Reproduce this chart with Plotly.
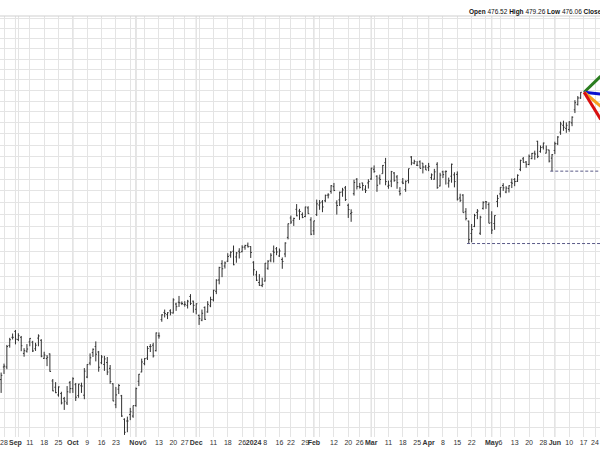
import numpy as np
import pandas as pd
import plotly.graph_objects as go

# ---------------- data (daily OHLC) ----------------
dates = ["2023-08-25","2023-08-28","2023-08-29","2023-08-30","2023-08-31","2023-09-01",
"2023-09-05","2023-09-06","2023-09-07","2023-09-08","2023-09-11","2023-09-12","2023-09-13","2023-09-14","2023-09-15",
"2023-09-18","2023-09-19","2023-09-20","2023-09-21","2023-09-22","2023-09-25","2023-09-26","2023-09-27","2023-09-28","2023-09-29",
"2023-10-02","2023-10-03","2023-10-04","2023-10-05","2023-10-06","2023-10-09","2023-10-10","2023-10-11","2023-10-12","2023-10-13",
"2023-10-16","2023-10-17","2023-10-18","2023-10-19","2023-10-20","2023-10-23","2023-10-24","2023-10-25","2023-10-26","2023-10-27",
"2023-10-30","2023-10-31","2023-11-01","2023-11-02","2023-11-03","2023-11-06","2023-11-07","2023-11-08","2023-11-09","2023-11-10",
"2023-11-13","2023-11-14","2023-11-15","2023-11-16","2023-11-17","2023-11-20","2023-11-21","2023-11-22","2023-11-24",
"2023-11-27","2023-11-28","2023-11-29","2023-11-30","2023-12-01","2023-12-04","2023-12-05","2023-12-06","2023-12-07","2023-12-08",
"2023-12-11","2023-12-12","2023-12-13","2023-12-14","2023-12-15","2023-12-18","2023-12-19","2023-12-20","2023-12-21","2023-12-22",
"2023-12-26","2023-12-27","2023-12-28","2023-12-29","2024-01-02","2024-01-03","2024-01-04","2024-01-05",
"2024-01-08","2024-01-09","2024-01-10","2024-01-11","2024-01-12","2024-01-16","2024-01-17","2024-01-18","2024-01-19",
"2024-01-22","2024-01-23","2024-01-24","2024-01-25","2024-01-26","2024-01-29","2024-01-30","2024-01-31","2024-02-01","2024-02-02",
"2024-02-05","2024-02-06","2024-02-07","2024-02-08","2024-02-09","2024-02-12","2024-02-13","2024-02-14","2024-02-15","2024-02-16",
"2024-02-20","2024-02-21","2024-02-22","2024-02-23","2024-02-26","2024-02-27","2024-02-28","2024-02-29","2024-03-01",
"2024-03-04","2024-03-05","2024-03-06","2024-03-07","2024-03-08","2024-03-11","2024-03-12","2024-03-13","2024-03-14","2024-03-15",
"2024-03-18","2024-03-19","2024-03-20","2024-03-21","2024-03-22","2024-03-25","2024-03-26","2024-03-27","2024-03-28",
"2024-04-01","2024-04-02","2024-04-03","2024-04-04","2024-04-05","2024-04-08","2024-04-09","2024-04-10","2024-04-11","2024-04-12",
"2024-04-15","2024-04-16","2024-04-17","2024-04-18","2024-04-19","2024-04-22","2024-04-23","2024-04-24","2024-04-25","2024-04-26",
"2024-04-29","2024-04-30","2024-05-01","2024-05-02","2024-05-03","2024-05-06","2024-05-07","2024-05-08","2024-05-09","2024-05-10",
"2024-05-13","2024-05-14","2024-05-15","2024-05-16","2024-05-17","2024-05-20","2024-05-21","2024-05-22","2024-05-23","2024-05-24",
"2024-05-28","2024-05-29","2024-05-30","2024-05-31","2024-06-03","2024-06-04","2024-06-05","2024-06-06","2024-06-07",
"2024-06-10","2024-06-11","2024-06-12","2024-06-13","2024-06-14"]

opens = [361.5,366.0,366.0,373.8,376.8,379.0,
376.0,376.8,370.9,371.7,375.1,375.0,372.6,376.5,375.7,
369.1,369.0,370.7,361.0,358.8,356.1,356.6,354.8,353.3,360.4,
358.3,359.7,355.9,359.3,356.0,362.4,367.4,371.2,373.4,371.4,
367.5,366.9,367.6,365.5,360.0,352.7,358.1,355.8,347.7,347.1,
349.3,348.8,352.4,360.9,364.2,367.2,369.2,373.4,373.9,371.9,
377.4,383.4,386.1,385.3,386.7,385.9,389.3,390.0,389.6,
389.1,388.8,392.2,390.4,387.3,385.0,383.2,388.0,386.3,388.6,
390.9,394.2,398.6,405.0,404.1,406.0,408.4,410.0,407.7,410.0,
409.8,411.7,412.4,411.9,405.6,400.6,397.6,396.5,
398.2,403.2,406.4,410.0,411.0,408.1,406.7,408.9,415.6,
423.6,422.6,427.2,426.5,425.0,424.2,427.8,422.8,418.3,425.0,
429.0,430.3,430.8,433.2,434.8,436.8,429.9,431.2,434.5,436.3,
428.9,425.4,433.8,440.0,436.9,438.4,435.7,438.4,440.1,
444.3,441.3,440.5,442.4,447.2,437.0,439.2,442.7,441.0,434.8,
438.8,435.6,439.4,449.7,447.0,446.1,447.6,447.0,445.3,
445.0,440.7,440.0,446.5,437.1,443.2,443.2,438.3,441.3,441.9,
442.1,432.0,433.2,426.2,422.3,417.2,420.1,425.9,417.3,427.6,
430.4,429.2,421.6,421.3,430.5,433.7,437.3,434.5,436.0,438.6,
439.9,439.1,444.3,448.9,447.5,446.4,449.0,451.4,456.7,452.2,
454.1,451.4,452.8,449.2,452.6,455.6,460.8,463.9,462.5,
462.0,465.0,471.0,473.5,476.52]

highs = [364.0,367.2,374.0,376.6,378.2,379.5,
378.3,377.3,372.8,374.3,376.5,375.5,374.8,377.9,376.1,
371.5,370.3,370.9,361.7,360.6,359.1,357.2,355.4,359.2,361.0,
362.3,360.3,360.0,360.4,365.6,367.0,370.9,372.7,375.3,371.8,
370.3,370.0,369.6,366.7,360.2,358.9,359.9,356.1,348.0,348.6,
351.6,352.4,358.7,363.5,369.0,369.2,373.6,374.3,374.8,378.6,
378.6,385.4,387.2,386.2,387.3,391.5,389.8,392.4,390.3,
390.4,390.9,393.1,390.6,389.6,385.3,387.2,388.4,390.4,392.1,
394.8,398.9,403.8,406.4,405.9,409.2,410.0,412.3,409.7,411.2,
412.4,412.6,413.5,412.0,406.0,402.2,400.9,399.5,
405.3,406.4,409.2,412.3,411.7,411.1,407.5,413.6,421.3,
424.6,423.7,429.4,427.4,425.9,428.3,428.5,423.9,422.4,431.3,
431.1,431.1,433.4,434.0,437.5,438.4,431.0,434.7,436.3,437.1,
429.6,427.2,439.8,440.5,438.4,438.5,437.4,440.0,445.0,
446.0,441.7,442.0,446.2,449.3,439.4,443.6,443.1,441.8,436.6,
440.5,439.5,444.6,450.1,448.5,447.9,448.2,447.1,446.2,
447.1,442.5,444.5,447.4,442.8,443.7,443.8,440.7,446.8,443.0,
443.4,433.8,433.6,427.7,422.5,421.1,425.3,427.3,424.5,430.6,
430.7,430.1,426.4,424.7,433.3,436.6,438.3,437.0,437.4,440.3,
440.5,442.1,448.5,449.7,447.9,450.8,451.5,452.5,456.9,454.8,
456.1,454.8,452.9,451.0,456.5,459.0,465.5,466.0,465.2,
465.8,468.0,475.5,477.4,479.26]

lows = [356.8,363.5,365.2,373.0,376.0,374.2,
375.4,371.7,369.7,371.2,373.5,371.4,371.8,373.5,369.5,
368.9,366.3,364.3,357.4,356.7,355.5,352.8,350.9,352.6,356.7,
356.8,354.0,355.1,356.8,354.6,362.0,366.6,369.6,368.0,364.3,
367.0,364.6,363.1,360.0,353.9,351.5,356.4,348.5,342.4,343.3,
347.4,348.2,352.0,359.2,364.1,366.6,368.5,371.4,369.4,371.6,
376.3,382.6,384.2,383.6,385.0,385.7,386.7,388.2,388.9,
388.3,387.6,388.9,386.0,385.4,381.4,382.8,383.3,386.0,388.1,
390.3,393.1,396.9,399.7,403.1,405.7,407.4,404.4,405.4,407.1,
409.6,410.6,411.5,407.3,400.3,398.2,396.3,395.8,
398.0,402.6,405.6,405.5,408.4,407.7,403.0,407.6,414.8,
421.1,420.3,424.3,422.8,423.5,423.9,425.3,416.5,416.6,424.4,
427.0,426.0,430.2,431.8,433.8,434.9,425.0,428.6,432.5,430.7,
423.6,422.0,433.0,435.6,436.0,435.1,434.1,436.0,439.7,
442.8,434.6,437.7,442.4,437.4,435.9,436.6,438.9,435.9,433.0,
437.9,434.6,438.2,446.1,446.5,445.9,444.7,442.5,444.0,
443.5,439.7,439.8,435.9,436.9,440.5,437.7,436.4,438.5,436.5,
430.9,430.3,425.8,422.6,413.1,413.6,419.8,423.1,416.6,427.1,
427.4,421.4,417.0,418.7,428.1,432.2,435.0,434.0,434.3,436.2,
437.0,438.8,443.5,447.2,445.0,446.1,448.7,448.5,449.2,451.6,
453.0,451.3,447.3,443.5,451.0,455.0,459.6,461.4,460.5,
461.0,463.5,469.5,473.0,476.06]

closes = [363.0,366.3,373.4,375.9,376.8,376.1,
377.4,373.7,371.9,372.5,376.4,371.8,373.9,377.3,369.9,
370.3,369.5,364.4,357.5,356.9,358.9,353.3,353.9,357.2,358.3,
361.8,355.3,359.9,359.2,364.5,366.9,369.3,372.4,370.6,365.9,
369.6,368.9,364.2,360.8,354.0,356.1,359.4,348.8,343.3,347.1,
350.3,352.4,358.3,363.4,367.8,369.0,372.7,373.4,370.0,378.4,
377.3,385.2,385.7,386.0,386.0,390.9,388.3,389.8,389.5,
389.2,390.4,389.5,388.8,389.4,383.8,385.8,383.5,389.2,391.0,
394.6,398.5,403.5,403.0,405.3,407.9,409.6,404.6,409.3,409.5,
411.6,412.3,411.8,409.5,402.6,398.5,396.5,396.9,
405.2,406.0,408.4,409.6,409.7,410.1,405.9,413.3,421.2,
421.9,423.4,424.5,426.3,423.8,428.2,425.4,416.9,422.4,429.5,
429.9,428.2,433.1,433.3,437.2,435.2,428.8,434.4,435.4,431.3,
427.1,425.9,438.6,436.8,436.5,437.3,435.1,439.0,444.8,
443.4,437.4,439.9,446.0,439.0,437.4,443.3,439.5,438.5,433.8,
438.3,439.1,444.6,447.1,447.7,446.0,444.7,445.3,444.0,
445.6,441.9,443.2,436.4,441.8,442.0,443.4,439.3,446.5,439.0,
431.5,431.0,425.8,423.4,414.7,418.8,424.6,426.5,423.9,430.0,
430.3,421.4,418.6,424.6,431.8,436.5,436.3,436.2,437.2,438.3,
439.0,441.7,448.2,447.3,446.5,450.0,451.3,451.0,450.0,453.9,
455.9,452.9,447.9,450.7,455.6,458.6,464.5,463.0,463.9,
465.4,467.6,474.3,476.5,479.19]

# projection fan: start at last close, end values at a later trading day
fan_end_date = "2024-06-26"
fan_end_values = [486.8, 478.3, 472.6, 466.6]
fan_colors = ["#2a7d1f", "#0a10d0", "#f5a020", "#d81010"]

# horizontal support lines (from the April and May lows)
support_dates = ["2024-04-19", "2024-05-31"]
support_values = [413.1, 443.5]

header_text = "<b>Open</b> 476.52 <b>High</b> 479.26 <b>Low</b> 476.06 <b>Close</b> 479.19"

holidays = ["2023-09-04", "2023-11-23", "2023-12-25", "2024-01-01", "2024-01-15",
            "2024-02-19", "2024-03-29", "2024-05-27", "2024-06-19", "2024-07-04"]

# ---------------- trading-day axis ----------------
cal = pd.bdate_range("2023-08-01", "2024-07-12")
cal = cal[~cal.isin(pd.to_datetime(holidays))]
pos = {d.strftime("%Y-%m-%d"): i for i, d in enumerate(cal)}
xi = [pos[d] for d in dates]

cal_s = pd.Series(cal)
week_first = cal_s.groupby(cal_s.dt.strftime("%G-%V")).first()
month_first = cal_s.groupby(cal_s.dt.strftime("%Y-%m")).first()

px_per_day = 2.869
x0 = pos["2023-08-28"]
left = x0 - 4 / px_per_day
right = left + 600 / px_per_day

def key(d):
    return d.strftime("%Y-%m-%d")

month_dates = [d for d in month_first if left - 3 <= pos[key(d)] <= right + 3]
month_idx = [pos[key(d)] for d in month_dates]
week_dates = [d for d in week_first if left - 3 <= pos[key(d)] <= right + 3]
week_idx = [pos[key(d)] for d in week_dates]

tickvals, ticktext = [], []
for i, d in zip(month_idx, month_dates):
    lab = str(d.year) if d.month == 1 else d.strftime("%b")
    tickvals.append(i)
    ticktext.append("<b>" + lab + "</b>")
for i, d in zip(week_idx, week_dates):
    if i in month_idx:
        continue
    near = any(abs(i - m) <= 2 for m in month_idx)
    tickvals.append(i)
    ticktext.append("" if near else str(d.day))

fig = go.Figure()

fig.add_trace(go.Ohlc(
    x=xi, open=opens, high=highs, low=lows, close=closes,
    increasing=dict(line=dict(color="#303030", width=1)),
    decreasing=dict(line=dict(color="#303030", width=1)),
    tickwidth=0.4, showlegend=False, hoverinfo="skip"))

# support lines
for d, v in zip(support_dates, support_values):
    fig.add_trace(go.Scatter(
        x=[pos[d] - 0.6, right + 2], y=[v, v], mode="lines",
        line=dict(color="#5a5a88", width=1, dash="3px,2px"),
        showlegend=False, hoverinfo="skip"))

# fan lines
for v, c in zip(fan_end_values, fan_colors):
    fig.add_trace(go.Scatter(
        x=[xi[-1] + 1.2, pos[fan_end_date]], y=[closes[-1], v], mode="lines",
        line=dict(color=c, width=3), showlegend=False, hoverinfo="skip"))

# month gridlines (slightly darker)
for i in month_idx:
    fig.add_shape(type="line", xref="x", yref="paper", x0=i, x1=i, y0=0, y1=1,
                  line=dict(color="#cacaca", width=1), layer="below")

fig.add_shape(type="line", xref="paper", yref="paper", x0=0, x1=1, y0=1, y1=1,
              line=dict(color="#cfcfcf", width=1))

grid_prices = list(range(345, 520, 5))
ybot, ytop = 341.7, 516.4

fig.update_layout(
    width=600, height=450,
    margin=dict(l=0, r=0, t=16, b=13),
    paper_bgcolor="white", plot_bgcolor="white",
    font=dict(family="Liberation Sans, Arial, sans-serif", size=7, color="#222"),
    xaxis=dict(range=[left, right], tickmode="array", tickvals=tickvals, ticktext=ticktext,
               showgrid=True, gridcolor="#e4e4e4", gridwidth=1, zeroline=False,
               rangeslider=dict(visible=False), ticks="", showline=False,
               tickfont=dict(size=7, color="#333")),
    yaxis=dict(type="log", range=[np.log10(ybot), np.log10(ytop)],
               tickmode="array", tickvals=grid_prices, showticklabels=False,
               showgrid=True, gridcolor="#e4e4e4", gridwidth=1, zeroline=False, ticks=""),
    annotations=[dict(text=header_text, xref="paper", yref="paper", x=467 / 600, y=1.0095,
                      xanchor="left", yanchor="middle", showarrow=False,
                      font=dict(size=6.5, color="#111"))],
)

fig.write_html("out.html", config={"displayModeBar": False},
               post_script="document.body.style.margin='0';document.body.style.overflow='hidden';")
